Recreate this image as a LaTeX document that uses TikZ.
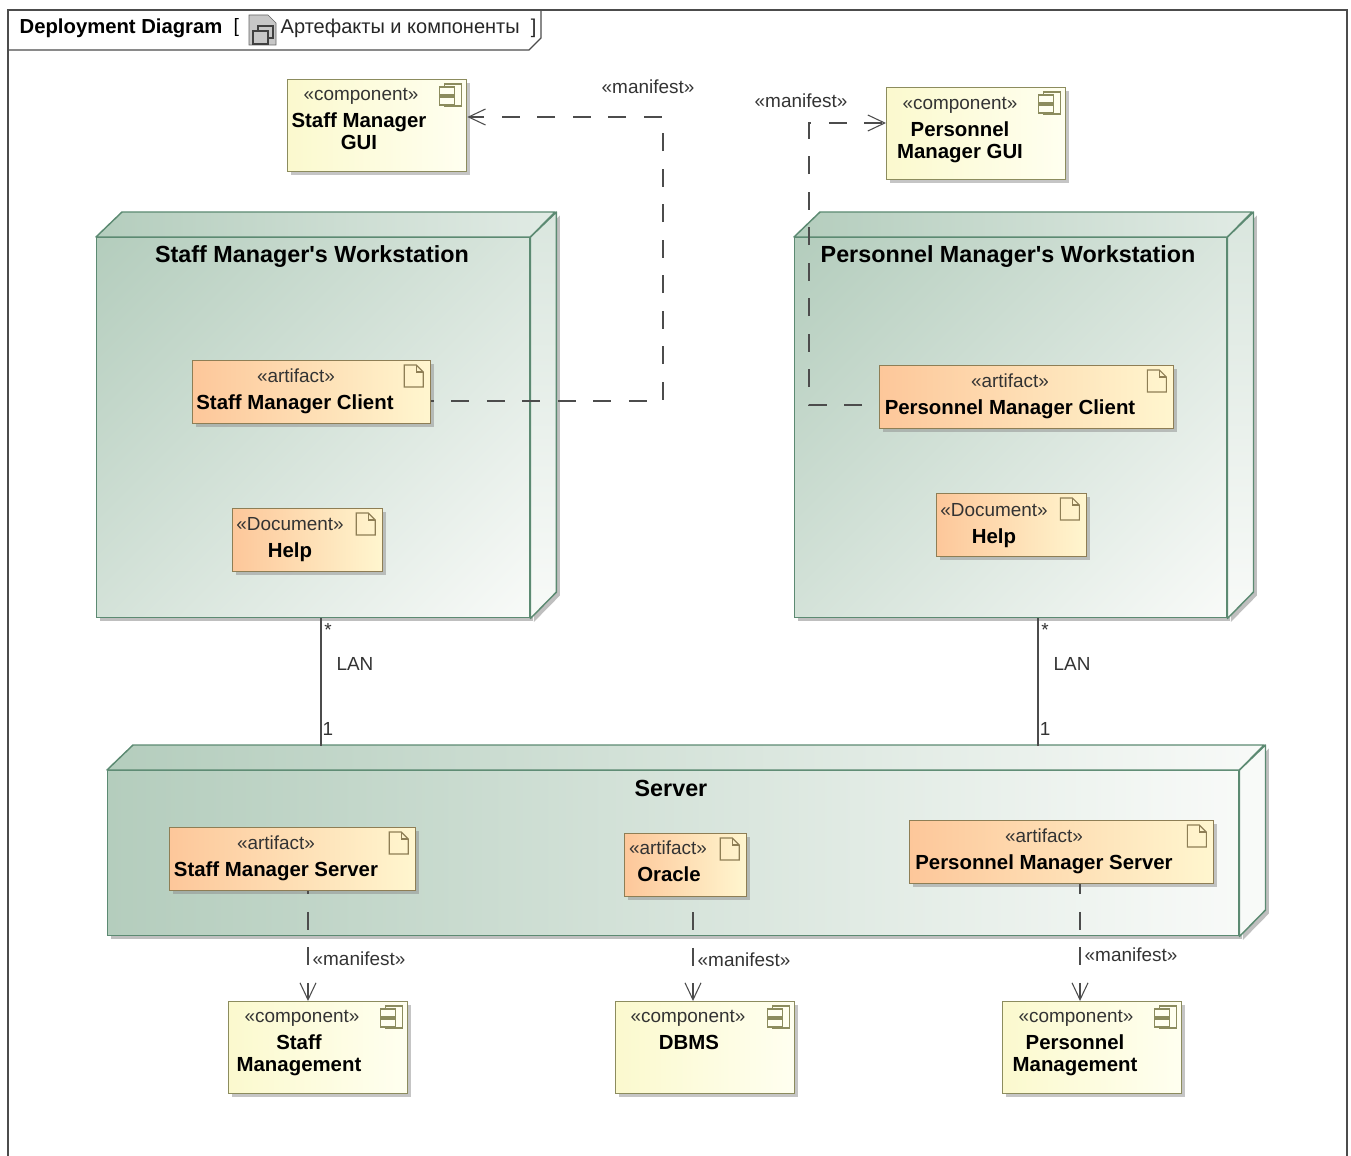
\documentclass[tikz,border=0pt]{standalone}
\usepackage{fontspec}
\setmainfont{Liberation Sans}
\usepackage{xcolor}
\usetikzlibrary{arrows.meta, shadows}
\definecolor{nodeline}{HTML}{5C8A72}
\definecolor{nodedark}{HTML}{B4CDBD}
\definecolor{nodelight}{HTML}{F8FAF8}
\definecolor{compline}{HTML}{8C8C5E}
\definecolor{artline}{HTML}{8E7E55}
\definecolor{compdark}{HTML}{FBF9CE}
\definecolor{complight}{HTML}{FFFFF0}
\definecolor{artdark}{HTML}{FDC79A}
\definecolor{artlight}{HTML}{FFF6CF}
\pgfdeclareverticalshading{nodegrad}{100bp}{color(0bp)=(nodelight); color(15bp)=(nodelight); color(85bp)=(nodedark); color(100bp)=(nodedark)}
\tikzset{
    boxshadow/.style={drop shadow={shadow xshift=2.6pt, shadow yshift=-2.6pt, fill=black!#1}},
    nodebox/.style={draw=nodeline, line width=1.1pt, shade, shading=nodegrad, shading angle=45, inner sep=0pt, anchor=north west, boxshadow=50},
    serverbox/.style={draw=nodeline, line width=1.1pt, left color=nodedark, right color=nodelight, inner sep=0pt, anchor=north west, boxshadow=50},
    topface/.style={draw=nodeline, line width=1.1pt, left color=nodedark, right color=#1, line join=round},
    sideface/.style={draw=nodeline, line width=1.1pt, top color=#1, bottom color=nodelight, line join=round, boxshadow=50},
    compbox/.style={draw=compline, line width=1pt, left color=compdark, right color=complight, inner sep=0pt, anchor=north west, boxshadow=45},
    artbox/.style={draw=artline, line width=1pt, left color=artdark, right color=artlight, inner sep=0pt, anchor=north west, boxshadow=45},
    stereo/.style={font=\fontsize{14.2}{16}\selectfont, text=black!80, text height=10pt, text depth=0pt},
    title/.style={font=\fontsize{15.3}{16.5}\selectfont\bfseries, align=center, yshift=-2pt},
    nodetitle/.style={font=\fontsize{17.5}{20}\selectfont\bfseries, yshift=-1.5pt},
    tag/.style={font=\fontsize{14.2}{16}\selectfont, text=black!80},
    link/.style={black!70, line width=0.8pt},
    manifest/.style={black!70, line width=0.8pt, dash pattern=on 13.5pt off 13.125pt, -{Straight Barb[length=12.7pt,width=12pt]}},
    compicon/.pic={
        \draw[compline, line width=0.9pt] (-23,5) rectangle (-6,27);
        \draw[compline, line width=0.9pt, fill=complight] (-28,8) rectangle (-13,16);
        \draw[compline, line width=0.9pt, fill=complight] (-28,18) rectangle (-13,26);
    },
    docicon/.pic={
        \draw[artline, line width=0.9pt] (-27,5) -- (-15,5) -- (-8,12) -- (-8,27) -- (-27,27) -- cycle;
        \draw[artline, line width=0.9pt] (-15,5) -- (-15,12) -- (-8,12);
    }
}
\begin{document}
\begin{tikzpicture}[x=0.75pt, y=-0.75pt]
    \useasboundingbox (0,0) rectangle (1351,1155);
    % Frame and tab
    \draw[black!70, line width=1pt] (8,1156) -- (8,10) -- (1347,10) -- (1347,1156);
    \draw[black!70, line width=1pt] (8,50) -- (529,50) -- (541,38) -- (541,10);
    \node[anchor=west, font=\fontsize{15.2}{16}\selectfont\bfseries] (frameName) at (15,28) {Deployment Diagram};
    \node[anchor=west, font=\fontsize{14.5}{16}\selectfont] (frameOpen) at (229,28) {[};
    \draw[black!60, fill=black!22] (249,15) -- (268,15) -- (276,23) -- (276,45) -- (249,45) -- cycle;
    \draw[black!75, line width=0.8pt] (258,26) rectangle (273,38);
    \draw[black!75, line width=0.8pt, fill=black!22] (253,31) rectangle (268,44);
    \node[anchor=west, font=\fontsize{15}{16}\selectfont, text=black!85] (frameTitle) at (276,28) {Артефакты и компоненты \ ]};
    % Staff workstation
    \node[nodebox, minimum width=433*0.75pt, minimum height=380*0.75pt] (wsA) at (96,237) {};
    \path[topface=nodedark!40!white] (wsA.north west) -- ++(26,-25) -- ++(433,0) -- (wsA.north east) -- cycle;
    \path[sideface=nodedark!50!white] (wsA.north east) -- ++(26,-25) -- ++(0,380) -- (wsA.south east) -- cycle;
    \node[nodetitle] (wsAtitle) at (312,255) {Staff Manager\textquotesingle s Workstation};
    % Personnel workstation
    \node[nodebox, minimum width=432*0.75pt, minimum height=380*0.75pt] (wsB) at (794,237) {};
    \path[topface=nodedark!40!white] (wsB.north west) -- ++(26,-25) -- ++(432,0) -- (wsB.north east) -- cycle;
    \path[sideface=nodedark!50!white] (wsB.north east) -- ++(26,-25) -- ++(0,380) -- (wsB.south east) -- cycle;
    \node[nodetitle] (wsBtitle) at (1008,255) {Personnel Manager\textquotesingle s Workstation};
    % Server
    \node[serverbox, minimum width=1131*0.75pt, minimum height=165*0.75pt] (srv) at (107,770) {};
    \path[topface=nodelight] (srv.north west) -- ++(26,-25) -- ++(1131,0) -- (srv.north east) -- cycle;
    \path[sideface=nodelight] (srv.north east) -- ++(26,-25) -- ++(0,165) -- (srv.south east) -- cycle;
    \node[nodetitle, yshift=1.5pt] (srvTitle) at (671,788) {Server};
    % Components
    \foreach \nm/\px/\py in {guiA/287/79, guiB/886/87, mgA/228/1001, mgB/1002/1001, mgC/615/1001} {
        \node[compbox, minimum width=179*0.75pt, minimum height=92*0.75pt] (\nm) at (\px,\py) {};
        \pic at (\nm.north east) {compicon};
    }
    \node[stereo] (guiAst) at (361,94) {«component»};
    \node[title] (guiAname) at (359,129) {Staff Manager\\GUI};
    \node[stereo] (guiBst) at (960,103) {«component»};
    \node[title] (guiBname) at (960,140) {Personnel\\Manager GUI};
    \node[stereo] (mgAst) at (302,1016) {«component»};
    \node[title] (mgAname) at (299,1053) {Staff\\Management};
    \node[stereo] (mgCst) at (688,1016) {«component»};
    \node[title] (mgCname) at (689,1040) {DBMS};
    \node[stereo] (mgBst) at (1076,1016) {«component»};
    \node[title] (mgBname) at (1075,1053) {Personnel\\Management};
    % Artifacts
    \foreach \nm/\px/\py/\bw in {clA/192/360/238, hpA/232/508/150, clB/879/365/294, hpB/936/493/150, svA/169/827/246, svC/624/833/122, svB/909/820/304} {
        \node[artbox, minimum width=\bw*0.75pt, minimum height=63*0.75pt] (\nm) at (\px,\py) {};
        \pic at (\nm.north east) {docicon};
    }
    \node[stereo] (clAst) at (296,376) {«artifact»};
    \node[title] (clAname) at (295,402) {Staff Manager Client};
    \node[stereo] (hpAst) at (290,524) {«Document»};
    \node[title] (hpAname) at (290,550) {Help};
    \node[stereo] (clBst) at (1010,381) {«artifact»};
    \node[title] (clBname) at (1010,407) {Personnel Manager Client};
    \node[stereo] (hpBst) at (994,510) {«Document»};
    \node[title] (hpBname) at (994,536) {Help};
    \node[stereo] (svAst) at (276,843) {«artifact»};
    \node[title] (svAname) at (276,869) {Staff Manager Server};
    \node[stereo] (svCst) at (668,848) {«artifact»};
    \node[title] (svCname) at (669,872) {Oracle};
    \node[stereo] (svBst) at (1044,836) {«artifact»};
    \node[title] (svBname) at (1044,862) {Personnel Manager Server};
    % Manifest links
    \coordinate (cornerAlow) at (663,401);
    \coordinate (cornerAtop) at (663,117);
    \coordinate (cornerBlow) at (809,405);
    \coordinate (cornerBtop) at (809,123);
    \draw[manifest, dash phase=11.6pt] (clA.east |- cornerAlow) -- (cornerAlow) -- (cornerAtop) -- (guiA.east |- cornerAtop);
    \draw[manifest, dash phase=13.9pt] (clB.west |- cornerBlow) -- (cornerBlow) -- (cornerBtop) -- (guiB.west |- cornerBtop);
    \coordinate (dropA) at (308,950);
    \coordinate (dropC) at (693,950);
    \coordinate (dropB) at (1080,950);
    \draw[manifest, dash phase=11.25pt] (svA.south -| dropA) -- (mgA.north -| dropA);
    \draw[manifest, dash phase=15.4pt] (svC.south -| dropC) -- (mgC.north -| dropC);
    \draw[manifest, dash phase=6pt] (svB.south -| dropB) -- (mgB.north -| dropB);
    \node[tag] (mfA) at (648,87) {«manifest»};
    \node[tag] (mfB) at (801,101) {«manifest»};
    \node[tag] (mfC) at (359,959) {«manifest»};
    \node[tag] (mfD) at (744,960) {«manifest»};
    \node[tag] (mfE) at (1131,955) {«manifest»};
    % LAN links
    \coordinate (lanA) at (321,700);
    \coordinate (lanB) at (1038,700);
    \draw[link] (wsA.south -| lanA) -- ++(0,128);
    \draw[link] (wsB.south -| lanB) -- ++(0,128);
    \node[tag] (lanAtop) at (328,630) {*};
    \node[tag] (lanAname) at (355,664) {LAN};
    \node[tag] (lanAend) at (328,729) {1};
    \node[tag] (lanBtop) at (1045,630) {*};
    \node[tag] (lanBname) at (1072,664) {LAN};
    \node[tag] (lanBend) at (1045,729) {1};
\end{tikzpicture}
\end{document}
